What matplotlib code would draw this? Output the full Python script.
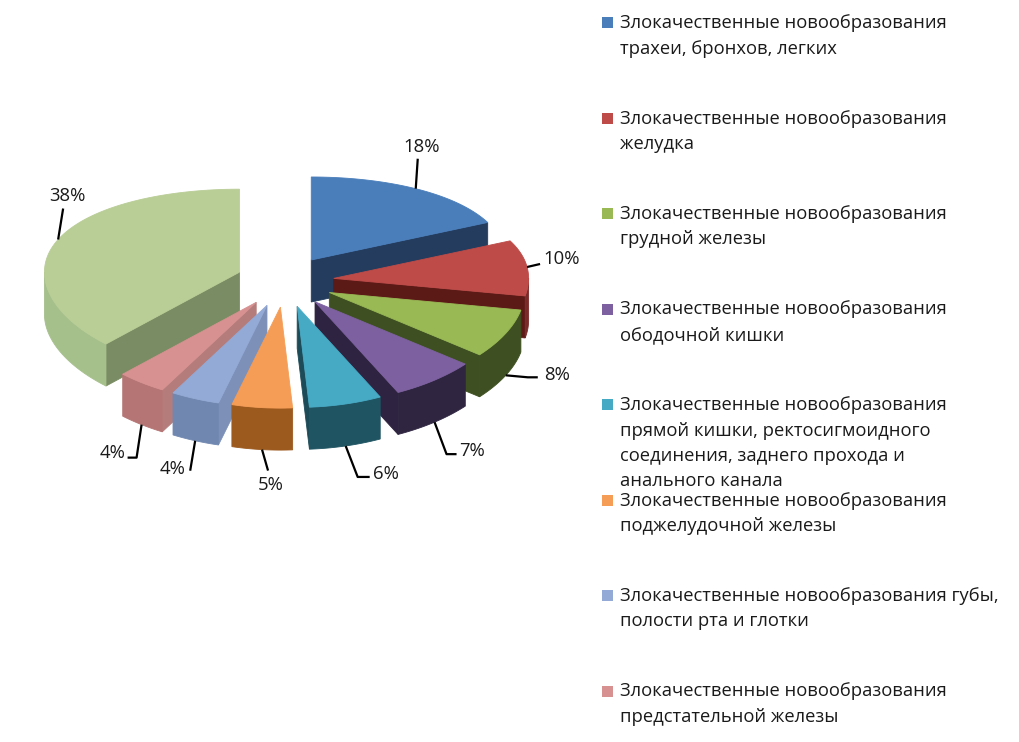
import numpy as np
import matplotlib
matplotlib.use("Agg")
import matplotlib.pyplot as plt
from matplotlib.patches import Polygon, Rectangle

plt.rcParams['font.family'] = ['Open Sans', 'DejaVu Sans']

# ---------------- data ----------------
values = [18, 10, 8, 7, 6, 5, 4, 4, 38]
categories = [
    "Злокачественные новообразования\nтрахеи, бронхов, легких",
    "Злокачественные новообразования\nжелудка",
    "Злокачественные новообразования\nгрудной железы",
    "Злокачественные новообразования\nободочной кишки",
    "Злокачественные новообразования\nпрямой кишки, ректосигмоидного\nсоединения, заднего прохода и\nанального канала",
    "Злокачественные новообразования\nподжелудочной железы",
    "Злокачественные новообразования губы,\nполости рта и глотки",
    "Злокачественные новообразования\nпредстательной железы",
    None,
]
pct_labels = [f"{v}%" for v in values]

# ---------------- style ----------------
top_colors = ["#4A7EBB", "#BE4B48", "#98B954", "#7D60A0", "#46AAC5",
              "#F59D56", "#93AAD6", "#D69190", "#B9CD96"]
wall_colors = ["#2A4A70", "#7A2A28", "#3E5021", "#2F2541", "#1F5462",
               "#9D5A1F", "#7088B0", "#B57574", "#A6C08C"]
cut_colors = ["#243C5E", "#5C1A17", "#3E5021", "#2E2340", "#1D4C58",
              "#9D5A1F", "#7D90B8", "#B47C7B", "#7A8C63"]

W, H = 1019, 742
CX, CY = 285.0, 281.6       # centre of the (unexploded) top face, px
RX = 195.0                   # horizontal radius
RY0, RYK = 92.0, 9.0         # vertical radius (with a little perspective)
DEPTH = 42.0                 # thickness of the pie
EX, EY = 49.0, 25.6          # explosion distance

fig = plt.figure(figsize=(W / 100, H / 100), dpi=100)
ax = fig.add_axes([0, 0, 1, 1])
ax.set_xlim(0, W)
ax.set_ylim(H, 0)
ax.axis("off")


def ry_at(th):
    return RY0 - RYK * np.cos(th)


def pt(th, r, off, dz=0.0):
    th = np.asarray(th, dtype=float)
    x = CX + off[0] + RX * r * np.sin(th)
    y = CY + off[1] - r * ry_at(th) * np.cos(th) + dz
    return np.column_stack([np.atleast_1d(x), np.atleast_1d(y)])


total = float(sum(values))
bounds = np.concatenate([[0], np.cumsum(values)]) / total * 2 * np.pi

slices = []
for i, v in enumerate(values):
    a0, a1 = bounds[i], bounds[i + 1]
    m = 0.5 * (a0 + a1)
    off = (EX * np.sin(m), -EY * np.cos(m))
    slices.append((i, a0, a1, m, off))

# painter's order: back slices first
order = sorted(slices, key=lambda s: np.cos(s[3]), reverse=True)


def poly(points, color, z):
    ax.add_patch(Polygon(points, closed=True, facecolor=color, edgecolor=color,
                         linewidth=0.6, zorder=z))


z = 1
for (i, a0, a1, m, off) in order:
    # radial cut faces
    apex_t = pt(0.0, 0.0, off)[0]
    apex_b = apex_t + np.array([0, DEPTH])
    if np.sin(a0) < 0:
        o_t = pt(a0, 1.0, off)[0]
        poly([apex_t, o_t, o_t + [0, DEPTH], apex_b], cut_colors[i], z)
    if np.sin(a1) > 0:
        o_t = pt(a1, 1.0, off)[0]
        poly([apex_t, o_t, o_t + [0, DEPTH], apex_b], cut_colors[i], z)
    # outer wall (front half only)
    w0, w1 = max(a0, np.pi / 2), min(a1, 3 * np.pi / 2)
    if w1 > w0:
        th = np.linspace(w0, w1, 80)
        top = pt(th, 1.0, off)
        bot = pt(th, 1.0, off, DEPTH)
        poly(np.vstack([top, bot[::-1]]), wall_colors[i], z)
    # top face
    th = np.linspace(a0, a1, 150)
    arc = pt(th, 1.0, off)
    poly(np.vstack([apex_t, arc]), top_colors[i], z + 0.5)
    z += 1

# ---------------- percentage labels ----------------
# (knee dx, knee dy, tail dx, text dx, text dy, ha)
label_layout = [
    (2, -30, 0, 6, -42, "center"),
    (13, -3, 0, 16, -8, "left"),
    (22, 2, 10, 38, 0, "left"),
    (12, 32, 10, 25, 29, "left"),
    (12, 31, 12, 27, 28, "left"),
    (6, 21, 0, 9, 35, "center"),
    (-5, 30, 0, -23, 28, "center"),
    (-5, 33, -9, -16, 28, "right"),
    (5, -31, 0, 9, -44, "center"),
]
for (i, a0, a1, m, off) in slices:
    dz = DEPTH if np.cos(m) < 0 else 0.0
    anchor = pt(m, 1.0, off, dz)[0]
    kdx, kdy, tdx, xdx, xdy, ha = label_layout[i]
    knee = anchor + [kdx, kdy]
    tail = knee + [tdx, 0]
    ax.plot([anchor[0], knee[0], tail[0]], [anchor[1], knee[1], tail[1]],
            color="black", linewidth=1.6, zorder=50, solid_capstyle="butt")
    ax.text(anchor[0] + xdx, anchor[1] + xdy, pct_labels[i], ha=ha, va="center",
            fontsize=13.3, color="#1a1a1a", zorder=51)

# ---------------- legend ----------------
LEG_X, LEG_Y0, LEG_STEP, LINE_STEP = 620, 28, 95.5, 25.5
k = 0
for i, name in enumerate(categories):
    if name is None:
        continue
    base = LEG_Y0 + k * LEG_STEP
    ax.add_patch(Rectangle((602, base - 11), 11.5, 11, facecolor=top_colors[i],
                           edgecolor="none", zorder=5))
    for j, line in enumerate(name.split("\n")):
        ax.text(LEG_X, base + j * LINE_STEP, line, ha="left", va="baseline",
                fontsize=13.2, color="#1a1a1a", zorder=6)
    k += 1

fig.savefig("out.png", dpi=100, facecolor="white")
